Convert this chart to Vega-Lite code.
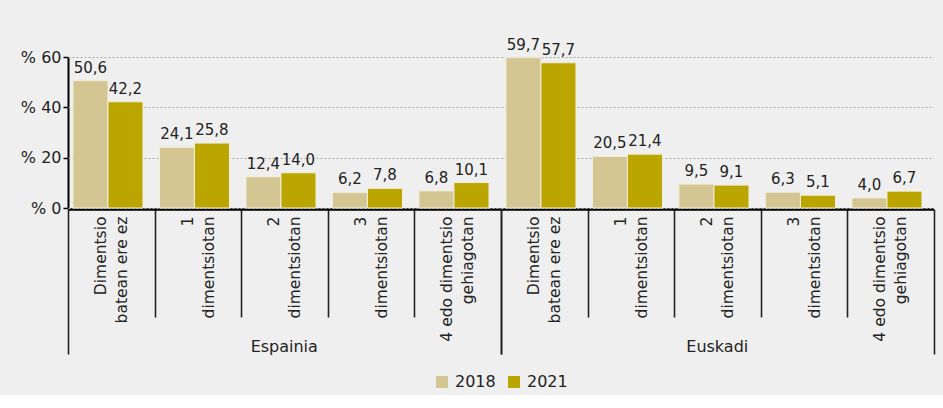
{
  "$schema": "https://vega.github.io/schema/vega-lite/v6.json",
  "background": "#efefef",
  "padding": {"left": 20, "top": 37, "right": 8, "bottom": 5},
  "config": {
    "font": "DejaVu Sans",
    "view": {"stroke": null},
    "locale": {"number": {"decimal": ",", "thousands": ".", "grouping": [3], "currency": ["", " €"]}}
  },
  "data": {
    "values": [
      {"group": "Espainia", "category": "Dimentsio batean ere ez", "year": "2018", "value": 50.6},
      {"group": "Espainia", "category": "Dimentsio batean ere ez", "year": "2021", "value": 42.2},
      {"group": "Espainia", "category": "1 dimentsiotan", "year": "2018", "value": 24.1},
      {"group": "Espainia", "category": "1 dimentsiotan", "year": "2021", "value": 25.8},
      {"group": "Espainia", "category": "2 dimentsiotan", "year": "2018", "value": 12.4},
      {"group": "Espainia", "category": "2 dimentsiotan", "year": "2021", "value": 14.0},
      {"group": "Espainia", "category": "3 dimentsiotan", "year": "2018", "value": 6.2},
      {"group": "Espainia", "category": "3 dimentsiotan", "year": "2021", "value": 7.8},
      {"group": "Espainia", "category": "4 edo dimentsio gehiagotan", "year": "2018", "value": 6.8},
      {"group": "Espainia", "category": "4 edo dimentsio gehiagotan", "year": "2021", "value": 10.1},
      {"group": "Euskadi", "category": "Dimentsio batean ere ez", "year": "2018", "value": 59.7},
      {"group": "Euskadi", "category": "Dimentsio batean ere ez", "year": "2021", "value": 57.7},
      {"group": "Euskadi", "category": "1 dimentsiotan", "year": "2018", "value": 20.5},
      {"group": "Euskadi", "category": "1 dimentsiotan", "year": "2021", "value": 21.4},
      {"group": "Euskadi", "category": "2 dimentsiotan", "year": "2018", "value": 9.5},
      {"group": "Euskadi", "category": "2 dimentsiotan", "year": "2021", "value": 9.1},
      {"group": "Euskadi", "category": "3 dimentsiotan", "year": "2018", "value": 6.3},
      {"group": "Euskadi", "category": "3 dimentsiotan", "year": "2021", "value": 5.1},
      {"group": "Euskadi", "category": "4 edo dimentsio gehiagotan", "year": "2018", "value": 4.0},
      {"group": "Euskadi", "category": "4 edo dimentsio gehiagotan", "year": "2021", "value": 6.7}
    ]
  },
  "spacing": 0,
  "facet": {
    "column": {
      "field": "group", "type": "nominal", "sort": ["Espainia", "Euskadi"],
      "header": {"title": null, "labelOrient": "bottom", "labelFontSize": 16, "labelColor": "#222222", "labelPadding": -16, "labelFont": "DejaVu Sans"}
    }
  },
  "spec": {
    "width": 432.5,
    "height": 151,
    "encoding": {
      "x": {
        "field": "category", "type": "nominal",
        "sort": ["Dimentsio batean ere ez", "1 dimentsiotan", "2 dimentsiotan", "3 dimentsiotan", "4 edo dimentsio gehiagotan"],
        "scale": {"paddingInner": 0, "paddingOuter": 0},
        "axis": {
          "title": null,
          "tickBand": "extent",
          "domainColor": "#000000", "domainWidth": 2.5,
          "tickColor": "#222222",
          "tickWidth": 1.6,
          "tickSize": {"condition": {"test": "datum.index < 0 || datum.index == 1", "value": 145}, "value": 108},
          "labelPadding": {"condition": {"test": "datum.index == 1", "value": -138}, "value": -101},
          "labelOffset": -10.5,
          "labelAngle": -90, "labelFontSize": 15.5, "labelColor": "#222222", "labelLineHeight": 21, "labelLimit": 300,
          "labelExpr": "datum.value == null ? '' : datum.value == 'Dimentsio batean ere ez' ? ['Dimentsio', 'batean ere ez'] : datum.value == '4 edo dimentsio gehiagotan' ? ['4 edo dimentsio', 'gehiagotan'] : split(datum.value, ' ')"
        }
      },
      "xOffset": {"field": "year", "type": "nominal", "scale": {"paddingInner": 0, "paddingOuter": 0.235, "align": 0.3}},
      "y": {
        "field": "value", "type": "quantitative",
        "scale": {"domain": [0, 60]},
        "axis": {
          "title": null, "values": [0, 20, 40, 60],
          "labelExpr": "'% ' + datum.value",
          "labelFontSize": 16, "labelColor": "#222222", "labelPadding": 2,
          "domainColor": "#000000", "domainWidth": 2,
          "tickColor": "#000000", "tickWidth": 1.5, "tickSize": 5,
          "gridColor": "#aaaaaa", "gridDash": [2, 2], "gridWidth": 1
        }
      }
    },
    "layer": [
      {
        "mark": {"type": "bar", "stroke": "#f2eedb", "strokeWidth": 1},
        "encoding": {
          "color": {
            "field": "year", "type": "nominal",
            "scale": {"domain": ["2018", "2021"], "range": ["#d3c693", "#bba500"]},
            "legend": {"title": null, "orient": "none", "legendX": 366, "legendY": 317, "direction": "horizontal", "symbolType": "square", "symbolSize": 144, "symbolStrokeWidth": 0, "labelFontSize": 16, "labelColor": "#222222", "labelOffset": 5, "columnPadding": 10}
          }
        }
      },
      {
        "mark": {"type": "text", "baseline": "alphabetic", "dy": -8, "fontSize": 15, "color": "#222222"},
        "encoding": {"text": {"field": "value", "type": "quantitative", "format": ".1f"}}
      }
    ]
  }
}
